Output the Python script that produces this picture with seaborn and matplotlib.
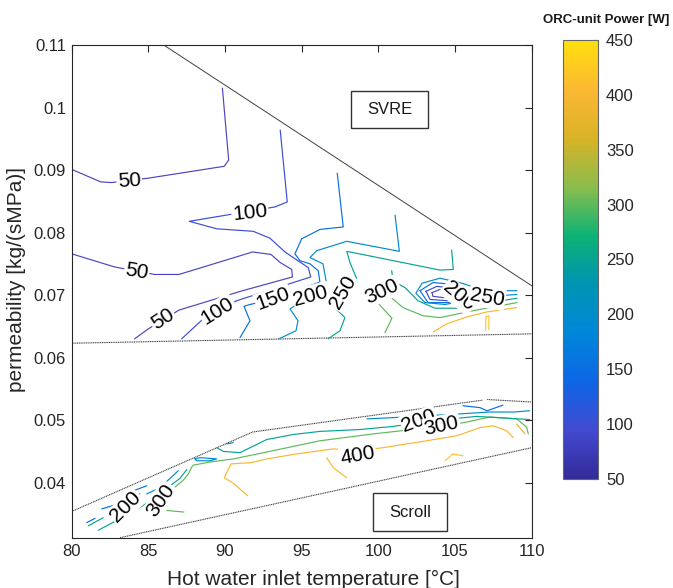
import numpy as np
import matplotlib
matplotlib.use("Agg")
import matplotlib.pyplot as plt
import seaborn as sns
from matplotlib.colors import LinearSegmentedColormap, Normalize
from matplotlib.patches import Rectangle
from matplotlib.cm import ScalarMappable

sns.set_theme(style="white")
plt.rcParams['font.family'] = ['Liberation Sans', 'DejaVu Sans']

# ---------------- data ----------------
x_ticks = [80, 85, 90, 95, 100, 105, 110]
y_ticks = [0.04, 0.05, 0.06, 0.07, 0.08, 0.09, 0.10, 0.11]
y_tick_labels = ["0.04", "0.05", "0.06", "0.07", "0.08", "0.09", "0.1", "0.11"]
cbar_ticks = [50, 100, 150, 200, 250, 300, 350, 400, 450]

# region boundaries
svre_diag_x = [86.0, 110.0]
svre_diag_y = [0.1100, 0.0715]
svre_low_x = [80.0, 110.0]
svre_low_y = [0.0623, 0.0638]
scroll_up_x = [80.0, 91.8, 106.8]
scroll_up_y = [0.0354, 0.0481, 0.0532]
scroll_up2_x = [107.1, 110.0]
scroll_up2_y = [0.0533, 0.0529]
scroll_low_x = [83.15, 110.0]
scroll_low_y = [0.0312, 0.0456]

# ---- SVRE contour lines ----
c50a_x = [80.0, 81.9, 82.6, 85.0, 89.95, 90.24, 89.83]
c50a_y = [0.0901, 0.0881, 0.0880, 0.0887, 0.0906, 0.0916, 0.1031]
c50b_x = [80.0, 82.8, 85.4, 87.0, 91.8, 93.0, 93.6, 94.35, 94.4, 91.0, 87.0, 85.0, 84.1]
c50b_y = [0.0766, 0.0745, 0.0733, 0.0733, 0.0769, 0.0765, 0.0752, 0.0741, 0.0729, 0.0706, 0.0676, 0.0646, 0.0630]
c100_x = [93.6, 94.06, 93.26, 90.11, 87.67, 89.46, 91.84, 92.93, 93.91, 94.45, 95.43, 95.59, 90.76, 88.58, 87.17]
c100_y = [0.0964, 0.0849, 0.0841, 0.0828, 0.0818, 0.0806, 0.0802, 0.0791, 0.0769, 0.0760, 0.0744, 0.0729, 0.0691, 0.0662, 0.0630]
c150_x = [97.32, 97.71, 96.19, 95.0, 94.56, 94.89, 95.54, 96.08, 96.19, 93.13, 91.63, 91.24, 91.63, 90.98]
c150_y = [0.0895, 0.0809, 0.0805, 0.0790, 0.0766, 0.0755, 0.0750, 0.0739, 0.0721, 0.0693, 0.0685, 0.0682, 0.0659, 0.0632]
c200_x = [101.09, 101.37, 97.94, 95.98, 95.54, 96.39, 96.59, 95.61, 94.24, 94.76, 94.63, 93.52]
c200_y = [0.0828, 0.0770, 0.0786, 0.0771, 0.0760, 0.0750, 0.0723, 0.0699, 0.0678, 0.0659, 0.0643, 0.0630]
c250_x = [104.78, 104.89, 104.02, 97.94, 98.15, 98.59, 97.69, 97.04, 97.82, 97.50, 96.72]
c250_y = [0.0772, 0.0741, 0.0740, 0.0770, 0.0752, 0.0726, 0.0704, 0.0683, 0.0664, 0.0643, 0.0630]
c300_x = [109.04, 106.17, 104.02, 102.91, 101.61, 100.89, 100.24, 99.98, 100.89, 100.43]
c300_y = [0.0688, 0.0675, 0.0664, 0.0667, 0.0680, 0.0695, 0.0706, 0.0687, 0.0663, 0.0640]
isl50_x = [103.50, 104.02, 104.67, 104.86, 104.22, 103.56, 103.50]
isl50_y = [0.0704, 0.0709, 0.0704, 0.0698, 0.0696, 0.0698, 0.0704]
isl100_x = [103.11, 103.82, 104.80, 105.45, 104.54, 103.37, 103.11]
isl100_y = [0.0706, 0.0714, 0.0711, 0.0699, 0.0691, 0.0693, 0.0706]
isl150_x = [102.72, 103.56, 104.99, 105.98, 104.80, 103.24, 102.72]
isl150_y = [0.0707, 0.0720, 0.0717, 0.0701, 0.0688, 0.0688, 0.0707]
isl200_x = [109.04, 107.28, 105.65, 104.35, 103.04, 102.45, 102.85, 104.02, 105.45, 106.95, 109.04]
isl200_y = [0.0701, 0.0698, 0.0691, 0.0685, 0.0688, 0.0703, 0.0719, 0.0727, 0.0719, 0.0707, 0.0707]
isl250_x = [100.87, 100.97, 101.74, 102.58, 103.69, 105.32, 107.28, 109.04]
isl250_y = [0.0739, 0.0722, 0.0712, 0.0691, 0.0679, 0.0679, 0.0688, 0.0695]
c400u_x = [103.58, 104.46, 105.76, 107.07, 109.02]
c400u_y = [0.0641, 0.0654, 0.0665, 0.0673, 0.0680]
c420u_x = [106.99, 107.02, 107.21, 107.21]
c420u_y = [0.0643, 0.0666, 0.0667, 0.0645]

# ---- Scroll contour lines ----
sA_x = [80.98, 81.52]
sA_y = [0.0336, 0.0343]
sB_x = [81.08, 82.06]
sB_y = [0.0331, 0.0344]
sC_x = [81.96, 83.04, 84.45]
sC_y = [0.0358, 0.0366, 0.0382]
sD_x = [84.02, 84.89]
sD_y = [0.0387, 0.0395]
sE_x = [81.74, 83.59, 84.57, 85.55, 86.63, 87.07, 87.51]
sE_y = [0.0324, 0.0348, 0.0362, 0.0378, 0.0399, 0.0407, 0.0421]
sF_x = [84.89, 85.76, 86.95]
sF_y = [0.0382, 0.0392, 0.0419]
sG_x = [87.32, 86.02, 86.74, 87.28, 87.61, 87.83, 87.93, 89.02, 90.54, 92.72, 96.19, 99.67,
        101.85, 104.02, 105.76, 107.28, 109.02, 109.67, 109.78]
sG_y = [0.0353, 0.0356, 0.0393, 0.0404, 0.0414, 0.0425, 0.0428, 0.0433, 0.0438, 0.0449, 0.0467,
        0.0478, 0.0484, 0.0489, 0.0497, 0.0505, 0.0502, 0.0489, 0.0478]
sLoop_x = [88.04, 88.37, 89.46, 89.02, 88.15, 88.04]
sLoop_y = [0.0438, 0.0440, 0.0438, 0.0435, 0.0435, 0.0438]
sCy_x = [89.46, 89.89, 90.98, 92.72, 94.45, 96.19, 98.80, 100.98, 103.15, 106.41, 109.87]
sCy_y = [0.0456, 0.0450, 0.0448, 0.0469, 0.0477, 0.0482, 0.0485, 0.0490, 0.0498, 0.0506, 0.0501]
sSm_x = [90.11, 90.54]
sSm_y = [0.0462, 0.0464]
s200r_x = [99.26, 100.95, 103.17, 105.32, 107.28, 108.84, 109.87]
s200r_y = [0.0502, 0.0504, 0.0507, 0.0510, 0.0513, 0.0513, 0.0515]
s150r_x = [105.52, 106.63, 107.09, 108.13]
s150r_y = [0.0523, 0.0520, 0.0515, 0.0524]
s400_x = [108.80, 108.37, 107.50, 106.63, 105.11, 103.15, 100.32, 98.67, 97.06, 94.67, 92.72,
          91.69, 90.39, 89.95, 90.60, 91.48]
s400_y = [0.0472, 0.0483, 0.0491, 0.0488, 0.0475, 0.0467, 0.0456, 0.0451, 0.0454, 0.0446, 0.0438,
          0.0432, 0.0430, 0.0408, 0.0398, 0.0379]
s380_x = [109.02, 109.56]
s380_y = [0.0494, 0.0478]
s400b_x = [96.63, 97.06, 97.93]
s400b_y = [0.0440, 0.0424, 0.0408]
s420_x = [104.35, 104.87, 105.52]
s420_y = [0.0435, 0.0446, 0.0443]

lines = [
    (50, c50a_x, c50a_y), (50, c50b_x, c50b_y), (100, c100_x, c100_y),
    (150, c150_x, c150_y), (200, c200_x, c200_y), (250, c250_x, c250_y),
    (300, c300_x, c300_y), (50, isl50_x, isl50_y), (100, isl100_x, isl100_y),
    (150, isl150_x, isl150_y), (200, isl200_x, isl200_y), (250, isl250_x, isl250_y),
    (400, c400u_x, c400u_y), (420, c420u_x, c420u_y),
    (150, sA_x, sA_y), (250, sB_x, sB_y), (150, sC_x, sC_y), (150, sD_x, sD_y),
    (250, sE_x, sE_y), (200, sF_x, sF_y), (300, sG_x, sG_y), (200, sLoop_x, sLoop_y),
    (250, sCy_x, sCy_y), (200, sSm_x, sSm_y), (200, s200r_x, s200r_y),
    (150, s150r_x, s150r_y), (400, s400_x, s400_y), (380, s380_x, s380_y),
    (400, s400b_x, s400b_y), (420, s420_x, s420_y),
]

# contour labels: text, x, y, rotation
lab_text = ["50", "50", "50", "100", "100", "150", "200", "250", "300", "200", "250",
            "200", "300", "400", "200", "300"]
lab_x = [83.75, 84.24, 85.93, 91.63, 89.52, 93.15, 95.6, 97.7, 100.24, 105.26, 107.09,
         102.65, 104.13, 98.67, 83.54, 85.82]
lab_y = [0.0882, 0.0737, 0.0662, 0.0831, 0.0675, 0.0694, 0.0699, 0.0704, 0.0706, 0.0698, 0.0696,
         0.0499, 0.0491, 0.0443, 0.0361, 0.0372]
lab_rot = [3, -10, 33, 6, 32, 20, 15, 60, 25, -40, -10, 20, 12, 10, 45, 55]

# ---------------- colour map (parula-like) ----------------
cb_colors = [(0.20, 0.17, 0.60), (0.26, 0.29, 0.82), (0.05, 0.40, 0.90), (0.00, 0.53, 0.85),
             (0.00, 0.58, 0.70), (0.05, 0.70, 0.45), (0.55, 0.74, 0.30), (0.85, 0.70, 0.15),
             (0.99, 0.72, 0.20), (1.00, 0.88, 0.05)]
cmap = LinearSegmentedColormap.from_list("parula_like", cb_colors)
norm = Normalize(vmin=50, vmax=450)
line_colors = {50: (0.30, 0.27, 0.75)}

# ---------------- figure ----------------
fig = plt.figure(figsize=(6.73, 5.88), dpi=100)
ax = fig.add_axes([0.1065, 0.0845, 0.6835, 0.839])

bc = "0.25"
ax.plot(svre_diag_x, svre_diag_y, color=bc, lw=0.7)
for xs, ys in [(svre_low_x, svre_low_y), (scroll_up_x, scroll_up_y),
               (scroll_up2_x, scroll_up2_y), (scroll_low_x, scroll_low_y)]:
    ax.plot(xs, ys, color=bc, lw=0.8, ls=(0, (1, 0.6)))

for lev, xs, ys in lines:
    col = line_colors.get(lev, cmap(norm(lev)))
    sns.lineplot(x=xs, y=ys, sort=False, estimator=None, color=col, lw=0.85, ax=ax)

for t, x, y, r in zip(lab_text, lab_x, lab_y, lab_rot):
    ax.text(x, y, t, rotation=r, ha="center", va="center", fontsize=15, color="black",
            rotation_mode="anchor",
            bbox=dict(boxstyle="square,pad=0.05", fc="white", ec="none"))

# region name boxes
ax.add_patch(Rectangle((98.2, 0.0967), 5.06, 0.0059, fill=False, ec="0.2", lw=1.0))
ax.text(100.73, 0.09965, "SVRE", ha="center", va="center", fontsize=12, color="0.1")
ax.add_patch(Rectangle((99.63, 0.0323), 4.83, 0.0060, fill=False, ec="0.2", lw=1.0))
ax.text(102.05, 0.0353, "Scroll", ha="center", va="center", fontsize=12, color="0.1")

ax.set_xlim(80, 110)
ax.set_ylim(0.0311, 0.11)
ax.set_xticks(x_ticks)
ax.set_yticks(y_ticks)
ax.set_yticklabels(y_tick_labels)
ax.tick_params(direction="in", length=5, width=0.8, top=True, right=True,
               labelsize=12, colors="0.15", pad=4)
for s in ax.spines.values():
    s.set_color("0.15")
    s.set_linewidth(0.8)
ax.set_xlabel("Hot water inlet temperature [°C]", fontsize=15, color="0.15")
ax.set_ylabel("permeability [kg/(sMPa)]", fontsize=15, color="0.15")
ax.xaxis.set_label_coords(0.526, -0.065)
ax.yaxis.set_label_coords(-0.099, 0.524)

# colour bar
cax = fig.add_axes([0.837, 0.1854, 0.0511, 0.7466])
sm = ScalarMappable(norm=norm, cmap=cmap)
cb = fig.colorbar(sm, cax=cax, ticks=cbar_ticks)
cb.outline.set_edgecolor("0.4")
cb.outline.set_linewidth(0.8)
cax.tick_params(direction="in", length=4, width=0.8, labelsize=12, colors="0.15", pad=6)
fig.text(0.994, 0.966, "ORC-unit Power [W]", ha="right", va="center", fontsize=9.5,
         fontweight="bold", color="0.1")

fig.savefig("out.png", dpi=100)
